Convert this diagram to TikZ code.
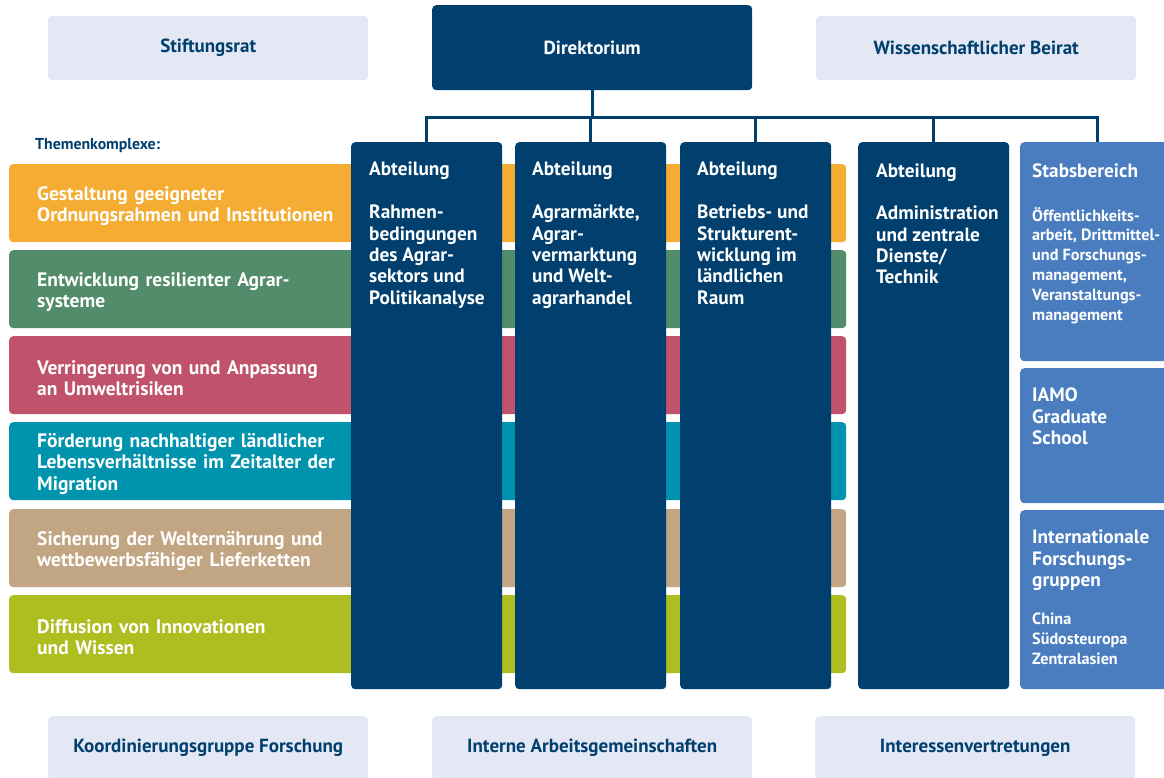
\documentclass[tikz,border=0pt]{standalone}
\usepackage{fontspec}
\setmainfont{PT Sans}
\definecolor{navy}{HTML}{003F6E}
\definecolor{lightbg}{HTML}{E3E8F4}
\definecolor{midblue}{HTML}{4A7DBF}
\definecolor{torange}{HTML}{F5AC32}
\definecolor{tgreen}{HTML}{528C6A}
\definecolor{tred}{HTML}{C0536B}
\definecolor{tteal}{HTML}{0093AD}
\definecolor{ttan}{HTML}{C2A683}
\definecolor{tlime}{HTML}{AEBD1F}
\tikzset{
  lightbox/.style={fill=lightbg, rounded corners=4pt, minimum width=320pt, minimum height=64pt,
    anchor=north west, inner sep=0pt, text=navy, font=\bfseries\fontsize{19}{21}\selectfont},
  dirbox/.style={fill=navy, rounded corners=4pt, minimum width=320pt, minimum height=85pt,
    anchor=north west, inner sep=0pt, text=white, font=\bfseries\fontsize{19}{21}\selectfont},
  stripe/.style={rounded corners=4pt, minimum height=78pt, text width=781pt, inner xsep=28pt,
    inner ysep=0pt, anchor=north west, align=left, text=white,
    font=\bfseries\fontsize{19.5}{21.5}\selectfont, execute at begin node={\rule{0pt}{19.5pt}}},
  colbox/.style={fill=navy, rounded corners=4pt, minimum width=151pt, minimum height=547pt,
    anchor=north west, inner sep=0pt},
  sidebox/.style={fill=midblue, rounded corners=4pt, minimum width=154pt,
    anchor=north west, inner sep=0pt},
  coltext/.style={anchor=north west, inner sep=0pt, align=left, text=white,
    font=\bfseries\fontsize{19.3}{21.3}\selectfont},
  smalltext/.style={anchor=north west, inner sep=0pt, align=left, text=white,
    font=\bfseries\fontsize{16.2}{19.8}\selectfont},
  conn/.style={draw=navy, line width=3pt},
}
\begin{document}
\begin{tikzpicture}[x=1pt,y=-1pt]
\useasboundingbox (0,0) rectangle (1164,778);
\clip (0,0) rectangle (1164,778);
% top row
\node[lightbox] (rat) at (48,16) {Stiftungsrat};
\node[dirbox] (dir) at (432,5) {Direktorium};
\node[lightbox] (beirat) at (816,16) {Wissenschaftlicher Beirat};
% themes
\node[anchor=west, inner sep=0pt, text=navy, font=\bfseries\fontsize{15.8}{18}\selectfont] (themen) at (35,146) {Themenkomplexe:};
\node[stripe, fill=torange] (t1) at (9,164) {Gestaltung geeigneter\\Ordnungsrahmen und Institutionen};
\node[stripe, fill=tgreen] (t2) at (9,250) {Entwicklung resilienter Agrar-\\systeme};
\node[stripe, fill=tred] (t3) at (9,336) {Verringerung von und Anpassung\\an Umweltrisiken};
\node[stripe, fill=tteal] (t4) at (9,422) {Förderung nachhaltiger ländlicher\\Lebensverhältnisse im Zeitalter der\\Migration};
\node[stripe, fill=ttan] (t5) at (9,509) {Sicherung der Welternährung und\\wettbewerbsfähiger Lieferketten};
\node[stripe, fill=tlime] (t6) at (9,595) {Diffusion von Innovationen\\und Wissen};
% columns
\node[colbox] (c1) at (351,142) {};
\node[colbox] (c2) at (515,142) {};
\node[colbox] (c3) at (680,142) {};
\node[colbox] (c4) at (858,142) {};
\node[sidebox, minimum height=219pt] (st) at (1020,142) {};
\node[sidebox, minimum height=135pt] (gs) at (1020,368) {};
\node[sidebox, minimum height=179pt] (ig) at (1020,510) {};
% column texts
\node[coltext] (c1t) at ([xshift=18pt,yshift=-20pt]c1.north west) {Abteilung\\[21.7pt]Rahmen-\\bedingungen\\des Agrar-\\sektors und\\Politikanalyse};
\node[coltext] (c2t) at ([xshift=17pt,yshift=-20pt]c2.north west) {Abteilung\\[21.7pt]Agrarmärkte,\\Agrar-\\vermarktung\\und Welt-\\agrarhandel};
\node[coltext] (c3t) at ([xshift=17pt,yshift=-20pt]c3.north west) {Abteilung\\[21.7pt]Betriebs- und\\Strukturent-\\wicklung im\\ländlichen\\Raum};
\node[coltext] (c4t) at ([xshift=18pt,yshift=-22pt]c4.north west) {Abteilung\\[20.7pt]Administration\\und zentrale\\Dienste/\\Technik};
\node[coltext] (stt) at ([xshift=12pt,yshift=-22pt]st.north west) {Stabsbereich};
\node[smalltext] (stb) at ([xshift=12pt,yshift=-65pt]st.north west) {Öffentlichkeits-\\arbeit, Drittmittel-\\und Forschungs-\\management,\\Veranstaltungs-\\management};
\node[coltext] (gst) at ([xshift=12pt,yshift=-20pt]gs.north west) {IAMO\\Graduate\\School};
\node[coltext] (igt) at ([xshift=12pt,yshift=-20pt]ig.north west) {Internationale\\Forschungs-\\gruppen};
\node[smalltext] (igb) at ([xshift=12pt,yshift=-103pt]ig.north west) {China\\Südosteuropa\\Zentralasien};
% connectors
\coordinate (bus) at (0,118);
\draw[conn] (dir.south) -- (dir.south |- bus);
\draw[conn] (c1.north) |- (bus -| st.north) -- (st.north);
\draw[conn] (c2.north) -- (c2.north |- bus);
\draw[conn] (c3.north) -- (c3.north |- bus);
\draw[conn] (c4.north) -- (c4.north |- bus);
% bottom row
\node[lightbox] (kf) at (48,716) {Koordinierungsgruppe Forschung};
\node[lightbox] (ia) at (432,716) {Interne Arbeitsgemeinschaften};
\node[lightbox] (iv) at (815,716) {Interessenvertretungen};
\end{tikzpicture}
\end{document}
